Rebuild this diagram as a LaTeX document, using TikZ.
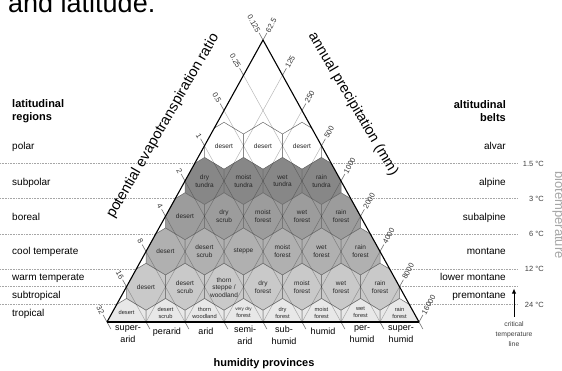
\documentclass[tikz,border=0pt]{standalone}
\usepackage{fontspec}
\setmainfont{Liberation Sans}
\usetikzlibrary{arrows.meta}

\definecolor{polar}{gray}{1.0}
\definecolor{subpolar}{gray}{0.53}
\definecolor{boreal}{gray}{0.61}
\definecolor{cooltemp}{gray}{0.69}
\definecolor{warmtemp}{gray}{0.79}
\definecolor{tropic}{gray}{0.91}

% one honeycomb cell round (#1,#2)
\newcommand{\hexcell}[2]{(#1,#2-23.5) -- (#1+19.5,#2-11.75) -- (#1+19.5,#2+11.75) -- (#1,#2+23.5) -- (#1-19.5,#2+11.75) -- (#1-19.5,#2-11.75) -- cycle}

\tikzset{
  hexzone/.style={draw=black!58, line width=0.5pt},
  gridline/.style={draw=black, draw opacity=0.28, line width=0.5pt},
  tickline/.style={draw=black!55, line width=0.6pt},
  zonetext/.style={font=\fontsize{6.5}{7.8}\selectfont, align=center, text=black!85, inner sep=0pt},
  lowtext/.style={font=\fontsize{5.7}{7}\selectfont, align=center, text=black!85, inner sep=0pt},
  ticktext/.style={font=\fontsize{7.5}{9}\selectfont, text=black!80, inner sep=1pt},
  regiontext/.style={font=\fontsize{10}{12}\selectfont, inner sep=0pt},
  headtext/.style={font=\bfseries\fontsize{11}{13}\selectfont, inner sep=0pt},
  axistext/.style={font=\fontsize{14.5}{16}\selectfont, inner sep=0pt},
  templine/.style={draw=black!35, densely dotted, line width=0.6pt},
  temptext/.style={font=\fontsize{7.5}{9}\selectfont, text=black!75, inner sep=0pt},
  provtext/.style={font=\fontsize{9}{12}\selectfont, align=center, inner sep=0pt, execute at begin node=\strut},
}

\begin{document}
\begin{tikzpicture}[x=1pt,y=-1pt]
\useasboundingbox (0,0) rectangle (562,370);
\fill[white] (0,0) rectangle (562,370);

% what is left of the caption above
\node[anchor=base west, font=\fontsize{27}{30}\selectfont, inner sep=0pt] (caption) at (8,12) {and latitude.};

\coordinate (apex) at (263,40);
\coordinate (bl) at (107,322);
\coordinate (br) at (419,322);

% biotemperature lines
\foreach \yy/\tv [count=\i] in {163.4/1.5, 198.6/3, 233.9/6, 269.1/12, 304.4/24}{
  \draw[templine] (0,\yy) -- (518,\yy);
  \node[temptext, anchor=base east] (temp\i) at (544,\yy+2.6) {\tv~°C};
}
\draw[templine] (0,286.75) -- (518,286.75);

\fill[white] (apex) -- (bl) -- (br) -- cycle;

% honeycomb of life zones
\begin{scope}
\clip (apex) -- (bl) -- (br) -- cycle;
\foreach \k/\shade in {3/polar,4/subpolar,5/boreal,6/cooltemp,7/warmtemp,8/tropic}
  \foreach \j in {1,...,\k}{
    \pgfmathsetmacro\cx{263-19.5*(\k+1)+39*\j}
    \pgfmathsetmacro\cy{40+35.25*\k}
    \filldraw[hexzone, fill=\shade] \hexcell{\cx}{\cy};
  }
\end{scope}

\foreach \k in {1,...,7}{
  \draw[gridline] (263-19.5*\k,40+35.25*\k) -- (419-39*\k,322);
  \draw[gridline] (263+19.5*\k,40+35.25*\k) -- (107+39*\k,322);
}

% zone names
\foreach \txt [count=\j] in {desert,desert,desert}
  \node[zonetext] (pz\j) at (263-78+39*\j,145.75) {\txt};
\foreach \txt [count=\j] in {{dry\\tundra},{moist\\tundra},{wet\\tundra},{rain\\tundra}}
  \node[zonetext] (sz\j) at (263-97.5+39*\j,181) {\txt};
\foreach \txt [count=\j] in {desert,{dry\\scrub},{moist\\forest},{wet\\forest},{rain\\forest}}
  \node[zonetext] (bz\j) at (263-117+39*\j,216.25) {\txt};
\foreach \txt [count=\j] in {desert,{desert\\scrub},steppe,{moist\\forest},{wet\\forest},{rain\\forest}}
  \node[zonetext] (cz\j) at (263-136.5+39*\j,251.5) {\txt};
\foreach \txt [count=\j] in {desert,{desert\\scrub},{thorn\\steppe /\\woodland},{dry\\forest},{moist\\forest},{wet\\forest},{rain\\forest}}
  \node[zonetext] (wz\j) at (263-156+39*\j,287.5) {\txt};
\foreach \txt [count=\j] in {desert,{desert\\scrub},{thorn\\woodland},{{\fontsize{4.6}{5.5}\selectfont very dry}\\forest},{dry\\forest},{moist\\forest},{wet\\forest},{rain\\forest}}
  \node[lowtext] (tz\j) at (263-175.5+39*\j,312.5) {\txt};

% ticks on the three sides
\foreach \lv/\rv [count=\i from 0] in {0.125/62.5,0.25/125,0.5/250,1/500,2/1000,4/2000,8/4000,16/8000,32/16000}{
  \draw[tickline] (263-19.5*\i,40+35.25*\i) -- ++(-3.9,-7.05) node[ticktext, anchor=east, rotate=-61] (pet\i) {\lv};
  \draw[tickline] (263+19.5*\i,40+35.25*\i) -- ++(3.9,-7.05) node[ticktext, anchor=west, rotate=61] (pre\i) {\rv};
  \draw[tickline] (107+39*\i,322) -- ++(3.9,7.05);
}

\draw[line width=1.1pt, line join=round] (bl) -- (apex) -- (br);
\draw[line width=1.7pt] (bl) -- (br);

\node[axistext, rotate=60] (petaxis) at (163,126) {potential evapotranspiration ratio};
\node[axistext, rotate=-59.5] (preaxis) at (353,104) {annual precipitation (mm)};

% latitudinal regions and altitudinal belts
\node[headtext, anchor=west, align=left] (latreg) at (12,111.5) {latitudinal\\regions};
\node[headtext, anchor=east, align=right] (altbelt) at (506,111.5) {altitudinal\\belts};
\foreach \txt/\yy [count=\i] in {polar/146,subpolar/182,boreal/217,cool temperate/251,warm temperate/277,subtropical/295,tropical/313}
  \node[regiontext, anchor=base west] (lat\i) at (12,\yy+3.2) {\txt};
\foreach \txt/\yy [count=\i] in {alvar/146,alpine/182,subalpine/217,montane/251,lower montane/277,premontane/295}
  \node[regiontext, anchor=base east] (alt\i) at (506,\yy+3.2) {\txt};

% humidity provinces
\foreach \txt [count=\i from 0] in {{super-\\arid},perarid,arid,{semi-\\arid},{sub-\\humid},humid,{per-\\humid},{super-\\humid}}
  \node[provtext, anchor=north] (hum\i) at (128+39*\i,325.5) {\txt};
\node[headtext, anchor=base] (humprov) at (264,366) {humidity provinces};

\node[font=\fontsize{13}{15}\selectfont, text=black!35, rotate=-90, anchor=base, inner sep=0pt] (biotemp) at (555,215) {biotemperature};

\node[temptext, align=center, font=\fontsize{6.8}{9.8}\selectfont, inner sep=5pt] (crit) at (514,334) {critical\\temperature\\line};
\coordinate (critpt) at (514,288.5);
\draw[-{Latex[length=5pt,width=4.5pt]}, line width=1pt] (crit) -- (critpt);
\end{tikzpicture}
\end{document}
